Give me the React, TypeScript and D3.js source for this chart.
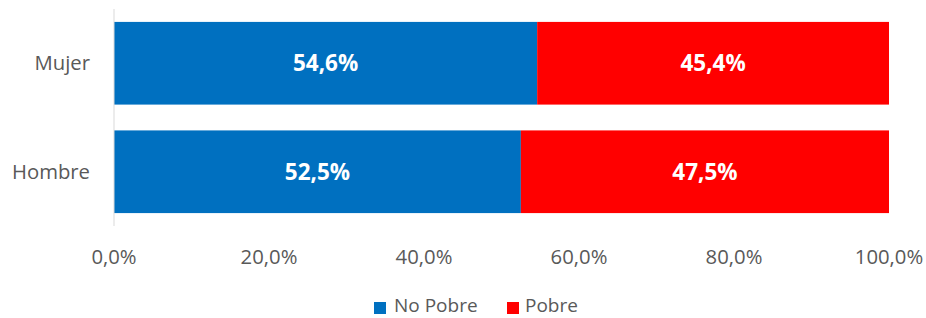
import React from 'react';
import * as d3 from 'd3';

const categories = ['Mujer', 'Hombre'];
const noPobre = [54.6, 52.5];
const pobre = [45.4, 47.5];
const xTicks = [0, 20, 40, 60, 80, 100];
const seriesNames = ['No Pobre', 'Pobre'];
const seriesColors = ['#0070C0', '#FF0000'];

const fmt = (v: number) => v.toFixed(1).replace('.', ',') + '%';

const App = () => {
  const width = 926;
  const height = 318;
  const margin = { top: 9, right: 37, bottom: 92, left: 114 };

  const x = d3.scaleLinear().domain([0, 100]).range([margin.left, width - margin.right]);
  const y = d3
    .scaleBand()
    .domain(categories)
    .range([margin.top, height - margin.bottom])
    .paddingInner(0.238)
    .paddingOuter(0.119);

  const font = "'Open Sans', 'Liberation Sans', sans-serif";

  const rows = categories.map((c, i) => ({ cat: c, parts: [noPobre[i], pobre[i]] }));

  return (
    <svg width={width} height={height} style={{ position: 'absolute', left: 0, top: 0 }} fontFamily={font}>
      {rows.map((r) => {
        let start = 0;
        return (
          <g key={r.cat}>
            {r.parts.map((v, j) => {
              const x0 = x(start);
              const x1 = x(start + v);
              start += v;
              return (
                <g key={j}>
                  <rect x={x0} y={y(r.cat)} width={x1 - x0} height={y.bandwidth()} fill={seriesColors[j]} />
                  <text
                    x={(x0 + x1) / 2}
                    y={(y(r.cat) as number) + y.bandwidth() / 2}
                    dy="0.35em"
                    textAnchor="middle"
                    fill="#fff"
                    fontWeight="bold"
                    fontSize={22.5}
                  >
                    {fmt(v)}
                  </text>
                </g>
              );
            })}
            <text
              x={margin.left - 24}
              y={(y(r.cat) as number) + y.bandwidth() / 2}
              dy="0.35em"
              textAnchor="end"
              fill="#595959"
              fontSize={20.3}
            >
              {r.cat}
            </text>
          </g>
        );
      })}

      <line
        x1={x(0)}
        x2={x(0)}
        y1={margin.top}
        y2={height - margin.bottom}
        stroke="#d9d9d9"
        strokeWidth={1}
      />

      {xTicks.map((t) => (
        <text key={t} x={x(t)} y={257} dy="0.35em" textAnchor="middle" fill="#595959" fontSize={20.3}>
          {fmt(t)}
        </text>
      ))}

      <g>
        <rect x={374} y={302} width={12} height={12} fill={seriesColors[0]} />
        <text x={394} y={305.5} dy="0.35em" fill="#595959" fontSize={19}>
          {seriesNames[0]}
        </text>
        <rect x={507} y={302} width={12} height={12} fill={seriesColors[1]} />
        <text x={525} y={305.5} dy="0.35em" fill="#595959" fontSize={19}>
          {seriesNames[1]}
        </text>
      </g>
    </svg>
  );
};

export default App;
